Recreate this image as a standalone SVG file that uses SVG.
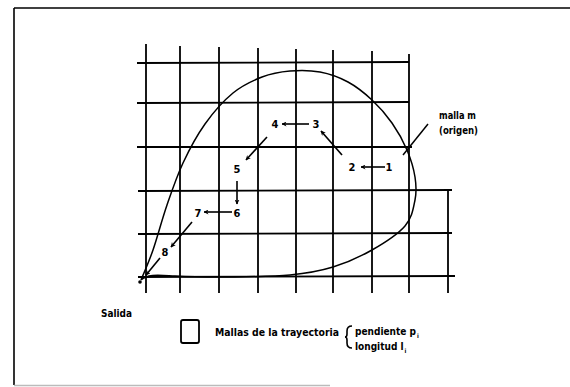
<svg xmlns="http://www.w3.org/2000/svg" width="570" height="387" viewBox="0 0 570 387">
<defs>
<marker id="ah" viewBox="0 0 10 10" refX="9" refY="5" markerWidth="5" markerHeight="5" orient="auto" markerUnits="userSpaceOnUse">
<path d="M0,0 L10,5 L0,10 L3,5 Z" fill="#000"/>
</marker>
</defs>
<style>
.g{stroke:#000;stroke-width:1.8;fill:none;stroke-linecap:butt}
.c{stroke:#000;stroke-width:1.5;fill:none}
.a{stroke:#000;stroke-width:1.6;fill:none;marker-end:url(#ah)}
.t{font-family:"Liberation Sans Narrow","DejaVu Sans Condensed","Liberation Sans",sans-serif;font-weight:bold;font-size:10px;fill:#000}
.sub{font-size:6px}
.n{font-family:"Liberation Sans Narrow","DejaVu Sans Condensed","Liberation Sans",sans-serif;font-weight:bold;font-size:11px;fill:#000;text-anchor:middle;dominant-baseline:central}
</style>
<rect x="0" y="0" width="570" height="387" fill="#fff"/>
<g id="frame">
<line x1="14" y1="8" x2="570" y2="8" stroke="#000" stroke-width="1.6"/>
<line x1="14" y1="8" x2="14" y2="385" stroke="#000" stroke-width="1.6"/>
<line x1="14" y1="385.5" x2="330" y2="385.5" stroke="#bbb" stroke-width="1.5"/>
</g>
<g id="grid" class="g">
<line x1="137" y1="63" x2="409" y2="62"/>
<line x1="137" y1="103" x2="409" y2="102"/>
<line x1="137" y1="147" x2="412" y2="147"/>
<line x1="138" y1="191" x2="452" y2="190"/>
<line x1="138" y1="234" x2="452" y2="233"/>
<line x1="138" y1="277" x2="455" y2="276"/>
<line x1="146" y1="44" x2="146" y2="293"/>
<line x1="180" y1="46" x2="180" y2="293"/>
<line x1="219" y1="47" x2="219" y2="293"/>
<line x1="258" y1="48" x2="258" y2="293"/>
<line x1="296" y1="49" x2="296" y2="293"/>
<line x1="333" y1="50" x2="333" y2="293"/>
<line x1="372" y1="51" x2="372" y2="293"/>
<line x1="409" y1="54" x2="409" y2="293"/>
<line x1="448" y1="190" x2="448" y2="293"/>
</g>
<g id="trajectory">
<path class="c" d="M141,280 C143,275 148.7,262.5 153,250 C157.3,237.5 162,219.5 167,205 C172,190.5 176.7,176.5 183,163 C189.3,149.5 196.7,135.7 205,124 C213.3,112.3 223.5,100.8 233,93 C242.5,85.2 252.5,80.7 262,77 C271.5,73.3 280.3,71.8 290,71 C299.7,70.2 310.3,70.2 320,72 C329.7,73.8 339.3,77.3 348,82 C356.7,86.7 364.7,93.2 372,100 C379.3,106.8 386.2,114.7 392,123 C397.8,131.3 403.2,141 407,150 C410.8,159 413.7,168.7 415,177 C416.3,185.3 416.7,191.8 415,200 C413.3,208.2 412.2,217.7 405,226 C397.8,234.3 384,243.2 372,250 C360,256.8 346.7,262.8 333,267 C319.3,271.2 307.2,273.3 290,275 C272.8,276.7 249.2,276.8 230,277 C210.8,277.2 187.8,276.7 175,276 C160,275.3 148,273.5 141,280"/>
<circle cx="140" cy="282" r="1.8" fill="#000"/>
</g>
<g id="n1"><text class="n" x="389" y="167">1</text></g>
<g id="n2"><text class="n" x="352" y="167">2</text></g>
<g id="n3"><text class="n" x="316" y="124">3</text></g>
<g id="n4"><text class="n" x="275" y="124">4</text></g>
<g id="n5"><text class="n" x="237" y="169">5</text></g>
<g id="n6"><text class="n" x="237" y="213">6</text></g>
<g id="n7"><text class="n" x="198" y="213">7</text></g>
<g id="n8"><text class="n" x="165" y="252">8</text></g>
<g id="connectors">
<line class="a" x1="385" y1="167" x2="361" y2="167"/>
<line class="a" x1="342" y1="155" x2="321" y2="131"/>
<line class="a" x1="309" y1="124" x2="282" y2="124"/>
<line class="a" x1="267" y1="137" x2="246" y2="160"/>
<line class="a" x1="237" y1="181" x2="237" y2="204"/>
<line class="a" x1="232" y1="212" x2="204" y2="212"/>
<line class="a" x1="192" y1="222" x2="171" y2="247"/>
<line class="a" x1="160" y1="258" x2="146" y2="275"/>
<line x1="428" y1="124" x2="403" y2="155" stroke="#000" stroke-width="1.5"/>
</g>
<g id="label-malla">
<text class="t" x="439" y="119" textLength="37" lengthAdjust="spacingAndGlyphs">malla m</text>
<text class="t" x="439" y="134" textLength="39" lengthAdjust="spacingAndGlyphs">(origen)</text>
</g>
<g id="label-salida">
<text class="t" x="101" y="317" textLength="31" lengthAdjust="spacingAndGlyphs">Salida</text>
</g>
<g id="legend">
<rect x="181" y="320" width="18" height="23" rx="2" fill="none" stroke="#000" stroke-width="1.8"/>
<text class="t" x="215" y="336" textLength="124" lengthAdjust="spacingAndGlyphs">Mallas de la trayectoria</text>
<path d="M352,326 Q347,326 347,331 L347,334 Q347,337 345,337 Q347,337 347,340 L347,343 Q347,348 352,348" fill="none" stroke="#000" stroke-width="1.6"/>
<text class="t" x="355" y="335">pendiente p<tspan class="sub" dx="1" dy="3">i</tspan></text>
<text class="t" x="355" y="350">longitud l<tspan class="sub" dx="1" dy="3">i</tspan></text>
</g>
</svg>
